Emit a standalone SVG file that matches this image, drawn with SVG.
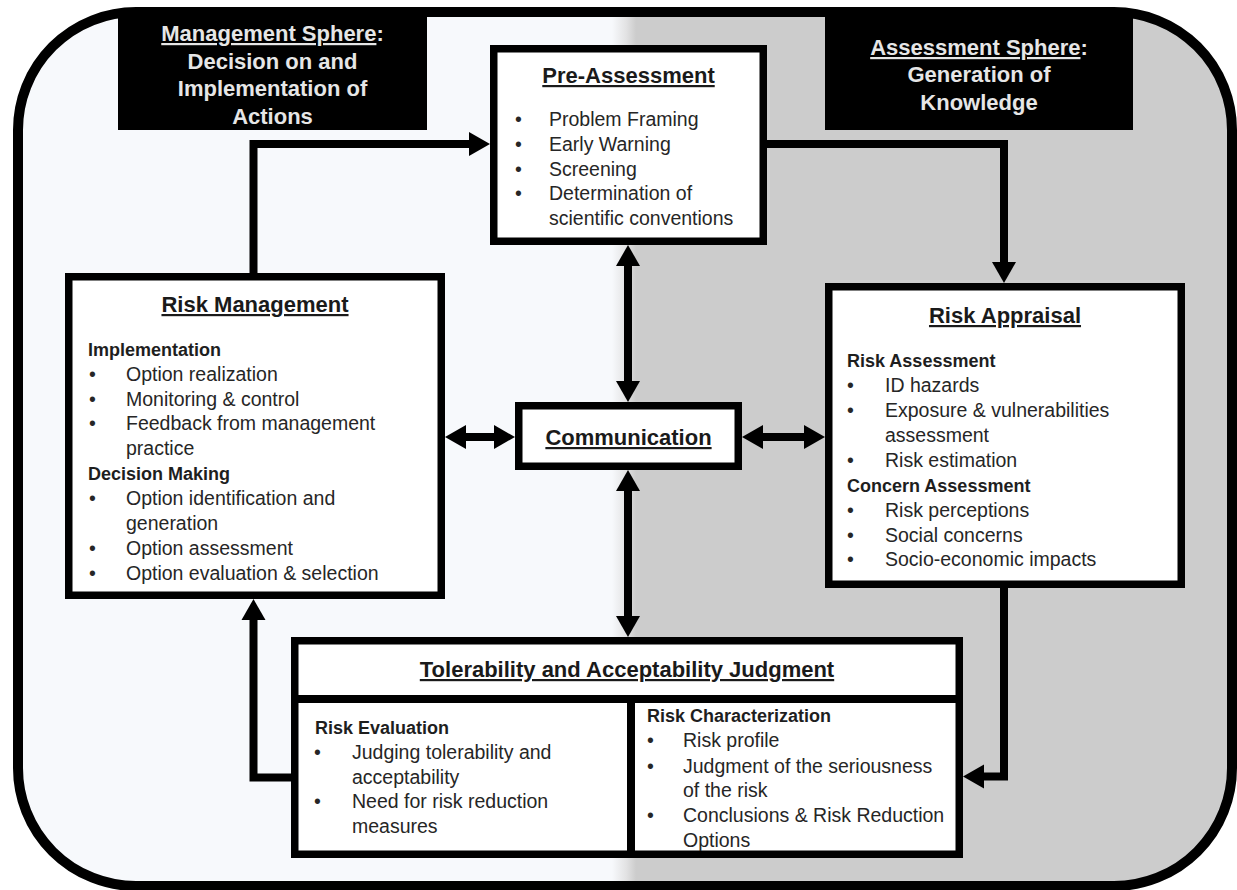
<svg xmlns="http://www.w3.org/2000/svg" width="1237" height="890" viewBox="0 0 1237 890">
<style>
text{font-family:"Liberation Sans",Arial,sans-serif}
.body{font-size:19.5px;fill:#262626}
.sub{font-size:18px;font-weight:bold;fill:#1e1e1e}
.title{font-size:22px;font-weight:bold;fill:#1a1a1a;text-anchor:middle;text-decoration:underline}
.hdr{font-size:22px;font-weight:bold;fill:#e6e6e6;text-anchor:middle}
.u{text-decoration:underline}
.box{fill:#ffffff;stroke:#000;stroke-width:7.5}
.div{fill:none;stroke:#000;stroke-width:8}
.conn{fill:none;stroke:#000;stroke-width:8;stroke-linejoin:miter;stroke-linecap:butt}
.black{fill:#000}
</style>
<defs>
<linearGradient id="bg" gradientUnits="userSpaceOnUse" x1="612" y1="0" x2="636" y2="0">
<stop offset="0" stop-color="#f7f9fc"/>
<stop offset="0.6" stop-color="#e2e2e3"/>
<stop offset="1" stop-color="#cccccc"/>
</linearGradient>
<marker id="ah" markerUnits="userSpaceOnUse" markerWidth="22" markerHeight="24" refX="1" refY="12" orient="auto-start-reverse" overflow="visible">
<path d="M0,0 L21,12 L0,24 Z" fill="#000"/>
</marker>
</defs>
<rect x="0" y="0" width="1237" height="890" fill="#ffffff"/>
<g id="frame">
<rect x="18" y="12" width="1214" height="874" rx="118" ry="118" fill="url(#bg)" stroke="#000" stroke-width="10"/>
</g>
<g id="management-sphere">
<rect class="black" x="118" y="12" width="309" height="118"/>
<text class="hdr" x="272.5" y="41"><tspan class="u">Management Sphere</tspan>:</text>
<text class="hdr" x="272.5" y="68.5">Decision on and</text>
<text class="hdr" x="272.5" y="96">Implementation of</text>
<text class="hdr" x="272.5" y="123.5">Actions</text>
</g>
<g id="assessment-sphere">
<rect class="black" x="825" y="12" width="308" height="118"/>
<text class="hdr" x="979" y="55"><tspan class="u">Assessment Sphere</tspan>:</text>
<text class="hdr" x="979" y="82">Generation of</text>
<text class="hdr" x="979" y="110">Knowledge</text>
</g>
<g id="connectors">
<path class="conn" d="M253.5 277 V144 H470" marker-end="url(#ah)"/>
<path class="conn" d="M767 144 H1004 V263" marker-end="url(#ah)"/>
<path class="conn" d="M465 437 H495" marker-start="url(#ah)" marker-end="url(#ah)"/>
<path class="conn" d="M762 437 H805" marker-start="url(#ah)" marker-end="url(#ah)"/>
<path class="conn" d="M628 265 V382" marker-start="url(#ah)" marker-end="url(#ah)"/>
<path class="conn" d="M628 490 V617" marker-start="url(#ah)" marker-end="url(#ah)"/>
<path class="conn" d="M1004 588 V776.5 H983" marker-end="url(#ah)"/>
<path class="conn" d="M291 777.5 H253.5 V619" marker-end="url(#ah)"/>
</g>
<g id="pre-assessment">
<rect class="box" x="493.75" y="48.75" width="269.5" height="192.5"/>
<text class="title" x="628.5" y="83">Pre-Assessment</text>
<text class="body" x="515" y="126">•</text><text class="body" x="549" y="126">Problem Framing</text>
<text class="body" x="515" y="151">•</text><text class="body" x="549" y="151">Early Warning</text>
<text class="body" x="515" y="176">•</text><text class="body" x="549" y="176">Screening</text>
<text class="body" x="515" y="200">•</text><text class="body" x="549" y="200">Determination of</text>
<text class="body" x="549" y="225">scientific conventions</text>
</g>
<g id="risk-management">
<rect class="box" x="68.75" y="276.75" width="372.5" height="318.5"/>
<text class="title" x="255" y="312">Risk Management</text>
<text class="sub" x="88" y="356">Implementation</text>
<text class="body" x="89" y="381">•</text><text class="body" x="126" y="381">Option realization</text>
<text class="body" x="89" y="406">•</text><text class="body" x="126" y="406">Monitoring &amp; control</text>
<text class="body" x="89" y="430">•</text><text class="body" x="126" y="430">Feedback from management</text>
<text class="body" x="126" y="455">practice</text>
<text class="sub" x="88" y="480">Decision Making</text>
<text class="body" x="89" y="505">•</text><text class="body" x="126" y="505">Option identification and</text>
<text class="body" x="126" y="530">generation</text>
<text class="body" x="89" y="555">•</text><text class="body" x="126" y="555">Option assessment</text>
<text class="body" x="89" y="580">•</text><text class="body" x="126" y="580">Option evaluation &amp; selection</text>
</g>
<g id="communication">
<rect class="box" x="518.75" y="405.75" width="219.5" height="60.5"/>
<text class="title" x="628.5" y="445">Communication</text>
</g>
<g id="risk-appraisal">
<rect class="box" x="828.75" y="286.75" width="352.5" height="297.5"/>
<text class="title" x="1005" y="323">Risk Appraisal</text>
<text class="sub" x="847" y="367">Risk Assessment</text>
<text class="body" x="847" y="392">•</text><text class="body" x="885" y="392">ID hazards</text>
<text class="body" x="847" y="417">•</text><text class="body" x="885" y="417">Exposure &amp; vulnerabilities</text>
<text class="body" x="885" y="442">assessment</text>
<text class="body" x="847" y="467">•</text><text class="body" x="885" y="467">Risk estimation</text>
<text class="sub" x="847" y="492">Concern Assessment</text>
<text class="body" x="847" y="517">•</text><text class="body" x="885" y="517">Risk perceptions</text>
<text class="body" x="847" y="542">•</text><text class="body" x="885" y="542">Social concerns</text>
<text class="body" x="847" y="566">•</text><text class="body" x="885" y="566">Socio-economic impacts</text>
</g>
<g id="tolerability">
<rect class="box" x="294.75" y="640.75" width="664.5" height="213.5"/>
<line class="div" x1="291" y1="699" x2="963" y2="699"/>
<line class="div" x1="631" y1="699" x2="631" y2="856"/>
<text class="title" x="627" y="677">Tolerability and Acceptability Judgment</text>
<text class="sub" x="315" y="734">Risk Evaluation</text>
<text class="body" x="314" y="759">•</text><text class="body" x="352" y="759">Judging tolerability and</text>
<text class="body" x="352" y="784">acceptability</text>
<text class="body" x="314" y="808">•</text><text class="body" x="352" y="808">Need for risk reduction</text>
<text class="body" x="352" y="833">measures</text>
<text class="sub" x="647" y="722">Risk Characterization</text>
<text class="body" x="647" y="747">•</text><text class="body" x="683" y="747">Risk profile</text>
<text class="body" x="647" y="773">•</text><text class="body" x="683" y="773">Judgment of the seriousness</text>
<text class="body" x="683" y="797">of the risk</text>
<text class="body" x="647" y="822">•</text><text class="body" x="683" y="822">Conclusions &amp; Risk Reduction</text>
<text class="body" x="683" y="847">Options</text>
</g>
</svg>
